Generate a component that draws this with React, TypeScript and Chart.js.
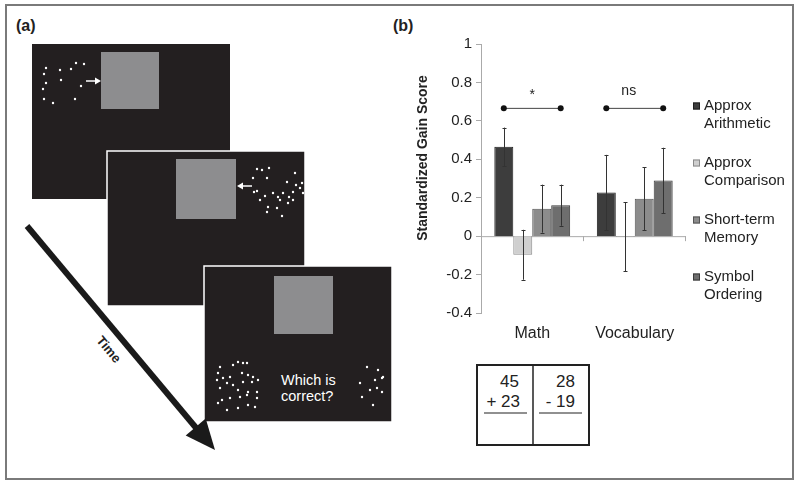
import React, { useEffect, useRef } from "react";
import { Chart, registerables } from "chart.js";
Chart.register(...registerables);

// ---------- data ----------
const categories = ["Math", "Vocabulary"];
const seriesNames = ["Approx Arithmetic", "Approx Comparison", "Short-term Memory", "Symbol Ordering"];
const approxArithmetic = [0.465, 0.227];
const approxComparison = [-0.097, -0.004];
const shortTermMemory = [0.143, 0.195];
const symbolOrdering = [0.161, 0.29];
const errApproxArithmetic = [0.1, 0.196];
const errApproxComparison = [0.13, 0.18];
const errShortTermMemory = [0.125, 0.163];
const errSymbolOrdering = [0.107, 0.17];
const sigLabels = ["*", "ns"];
const sigLevel = 0.665;
const sigLabelLevel = 0.757;
const yMin = -0.4;
const yMax = 1;
const yStep = 0.2;
const yTitle = "Standardized Gain Score";

const seriesValues = [approxArithmetic, approxComparison, shortTermMemory, symbolOrdering];
const seriesErrors = [errApproxArithmetic, errApproxComparison, errShortTermMemory, errSymbolOrdering];
const fills = ["#3d3d3d", "#cfcfcf", "#8c8c8c", "#6e6e6e"];
const borders = ["#1e1e1e", "#8a8a8a", "#555555", "#3a3a3a"];

// ---------- illustration (panel a) ----------
const dots1 = [[46,68],[44,74],[46,83],[43,89],[44,99],[53,103],[60,70],[61,80],[71,69],[76,63],[84,64],[81,86],[75,99]];
const dots2 = [[257,169],[262,170],[269,168],[295,173],[253,178],[267,178],[257,191],[254,192],[287,182],[296,185],[302,183],[300,188],[265,196],[273,193],[278,197],[283,193],[293,192],[289,197],[303,193],[260,200],[280,200],[288,203],[293,200],[268,207],[277,208],[267,212],[282,216]];
const dots3 = [[220,367],[233,365],[238,362],[243,363],[247,363],[218,373],[217,380],[223,378],[230,377],[242,373],[248,375],[253,377],[258,380],[227,383],[233,385],[243,382],[252,382],[220,388],[238,390],[248,392],[257,392],[222,400],[230,398],[240,397],[247,395],[257,398],[218,403],[227,410],[238,408],[248,405],[255,407],[367,367],[378,370],[382,378],[360,383],[375,380],[370,390],[377,388],[382,392],[362,397],[373,405],[383,377]];

const FONT = "'Liberation Sans', Arial, sans-serif";

const overlayPlugin = {
  id: "overlay",
  beforeDatasetsDraw(chart: any) {
    const { ctx, chartArea, scales } = chart;
    const y0 = scales.y.getPixelForValue(0);
    ctx.save();
    ctx.strokeStyle = "#aaaaaa";
    ctx.lineWidth = 1;
    ctx.beginPath();
    ctx.moveTo(chartArea.left, y0 + 0.5);
    ctx.lineTo(chartArea.right, y0 + 0.5);
    const n = categories.length;
    const w = (chartArea.right - chartArea.left) / n;
    for (let i = 1; i <= n; i++) {
      const x = Math.round(chartArea.left + i * w) - 0.5;
      ctx.moveTo(x, y0);
      ctx.lineTo(x, y0 + 5);
    }
    ctx.stroke();
    ctx.restore();
  },
  afterDatasetsDraw(chart: any) {
    const { ctx, scales } = chart;
    const ys = scales.y;
    ctx.save();
    // error bars
    ctx.strokeStyle = "#333333";
    ctx.lineWidth = 1;
    seriesErrors.forEach((errs, i) => {
      const meta = chart.getDatasetMeta(i);
      errs.forEach((e, j) => {
        const el = meta.data[j];
        const v = seriesValues[i][j];
        const x = Math.round(el.x) + 0.5;
        const yt = ys.getPixelForValue(v + e);
        const yb = ys.getPixelForValue(v - e);
        ctx.beginPath();
        ctx.moveTo(x, yt);
        ctx.lineTo(x, yb);
        ctx.moveTo(x - 2, Math.round(yt) + 0.5);
        ctx.lineTo(x + 2, Math.round(yt) + 0.5);
        ctx.moveTo(x - 2, Math.round(yb) + 0.5);
        ctx.lineTo(x + 2, Math.round(yb) + 0.5);
        ctx.stroke();
      });
    });
    // significance brackets
    const m0 = chart.getDatasetMeta(0);
    const m3 = chart.getDatasetMeta(seriesNames.length - 1);
    const ySig = ys.getPixelForValue(sigLevel);
    const yLab = ys.getPixelForValue(sigLabelLevel);
    categories.forEach((_, j) => {
      const x1 = m0.data[j].x;
      const x2 = m3.data[j].x;
      ctx.strokeStyle = "#444444";
      ctx.beginPath();
      ctx.moveTo(x1, ySig);
      ctx.lineTo(x2, ySig);
      ctx.stroke();
      ctx.fillStyle = "#111111";
      [x1, x2].forEach((x) => {
        ctx.beginPath();
        ctx.arc(x, ySig, 3, 0, Math.PI * 2);
        ctx.fill();
      });
      ctx.fillStyle = "#222222";
      ctx.font = `14px ${FONT}`;
      ctx.textAlign = "center";
      ctx.textBaseline = "middle";
      const lab = sigLabels[j];
      ctx.fillText(lab, (x1 + x2) / 2 - (j === 1 ? 6 : 0), lab === "*" ? yLab + 4 : yLab);
    });
    ctx.restore();
  },
  afterDraw(chart: any) {
    const { ctx, chartArea } = chart;
    ctx.save();
    // y-axis title
    ctx.translate(43, 158);
    ctx.rotate(-Math.PI / 2);
    ctx.font = `bold 14px ${FONT}`;
    ctx.fillStyle = "#222222";
    ctx.textAlign = "center";
    ctx.textBaseline = "middle";
    ctx.fillText(yTitle, 0, 0);
    ctx.restore();
    // legend
    ctx.save();
    const lx = chartArea.right + 7;
    seriesNames.forEach((name, i) => {
      const idx = name.indexOf(" ");
      const lines = [name.slice(0, idx), name.slice(idx + 1)];
      const y = 106 + i * 57;
      ctx.fillStyle = fills[i];
      ctx.strokeStyle = borders[i];
      ctx.lineWidth = 1;
      ctx.fillRect(lx, y - 3.5, 7, 7);
      ctx.strokeRect(lx + 0.5, y - 3.5 + 0.5, 6, 6);
      ctx.fillStyle = "#222222";
      ctx.font = `15px ${FONT}`;
      ctx.textAlign = "left";
      ctx.textBaseline = "middle";
      lines.forEach((t, k) => ctx.fillText(t, lx + 11, y + k * 18));
    });
    ctx.restore();
  },
};

function BarChart() {
  const ref = useRef<HTMLCanvasElement | null>(null);
  useEffect(() => {
    if (!ref.current) return;
    const chart = new Chart(ref.current, {
      type: "bar",
      data: {
        labels: categories,
        datasets: seriesNames.map((name, i) => ({
          label: name,
          data: seriesValues[i],
          backgroundColor: fills[i],
          borderColor: borders[i],
          borderWidth: 1,
          categoryPercentage: 0.74,
          barPercentage: 1.0,
        })),
      },
      options: {
        responsive: false,
        animation: false,
        layout: { padding: { left: 0, right: 114, top: 44, bottom: 0 } },
        plugins: { legend: { display: false }, tooltip: { enabled: false }, title: { display: false } },
        scales: {
          x: {
            grid: { display: false, drawTicks: false },
            border: { display: false },
            ticks: { font: { size: 16, family: FONT }, color: "#222222", padding: 11 },
            afterFit: (s: any) => { s.height = 47; },
          },
          y: {
            min: yMin,
            max: yMax,
            ticks: {
              stepSize: yStep,
              font: { size: 15, family: FONT },
              color: "#222222",
              padding: 4,
              callback: (v: any) => String(Number(Number(v).toFixed(1))),
            },
            grid: { display: true, drawOnChartArea: false, drawTicks: true, tickLength: 5, color: "#aaaaaa" },
            border: { display: true, color: "#aaaaaa" },
            afterFit: (s: any) => { s.width = 101; },
          },
        },
      },
      plugins: [overlayPlugin],
    } as any);
    return () => chart.destroy();
  }, []);
  return <canvas ref={ref} width={420} height={360} style={{ display: "block" }} />;
}

export default function App() {
  const dot = (p: number[], k: number) => <circle key={k} cx={p[0]} cy={p[1]} r={1.2} fill="#ffffff" />;
  return (
    <div style={{ position: "absolute", left: 0, top: 0, width: 800, height: 485, background: "#fff", fontFamily: FONT }}>
      <svg width={800} height={485} style={{ position: "absolute", left: 0, top: 0 }}>
        <rect x={6} y={5} width={787} height={474} fill="none" stroke="#7a7a7a" strokeWidth={2} />
        <text x={16} y={31} fontFamily={FONT} fontWeight="bold" fontSize={16} fill="#222">(a)</text>
        <text x={393} y={31} fontFamily={FONT} fontWeight="bold" fontSize={16} fill="#222">(b)</text>
        {/* screen 1 */}
        <rect x={32} y={44} width={198} height={155} fill="#231f20" />
        <rect x={101} y={52} width={58} height={57} fill="#8d8d8f" />
        {dots1.map(dot)}
        <line x1={86} y1={81} x2={96} y2={81} stroke="#fff" strokeWidth={1.5} />
        <polygon points="95,77.5 101,81 95,84.5" fill="#fff" />
        {/* screen 2 */}
        <rect x={107} y={151} width={198} height={155} fill="#231f20" stroke="#ffffff" strokeWidth={1.5} />
        <rect x={176} y={159} width={60} height={60} fill="#8d8d8f" />
        {dots2.map(dot)}
        <line x1={252} y1={186} x2={242} y2={186} stroke="#fff" strokeWidth={1.5} />
        <polygon points="243,182.5 237,186 243,189.5" fill="#fff" />
        {/* screen 3 */}
        <rect x={204} y={266} width={188} height={156} fill="#231f20" stroke="#ffffff" strokeWidth={1.5} />
        <rect x={274} y={276} width={59} height={58} fill="#8d8d8f" />
        {dots3.map(dot)}
        <text x={281} y={385} fontFamily={FONT} fontSize={14.5} fill="#fff">Which is</text>
        <text x={281} y={401} fontFamily={FONT} fontSize={14.5} fill="#fff">correct?</text>
        {/* time arrow */}
        <line x1={27} y1={226} x2={197} y2={429} stroke="#1a1a1a" strokeWidth={6} />
        <polygon points="215,450 185.7,435.4 205.7,418.6" fill="#1a1a1a" />
        <text x={108} y={350} fontFamily={FONT} fontWeight="bold" fontSize={13} fill="#222" textAnchor="middle" dominantBaseline="middle" transform="rotate(50 108 350)">Time</text>
        {/* table */}
        <rect x={477} y={365} width={112} height={80} fill="none" stroke="#222" strokeWidth={2} />
        <line x1={533} y1={365} x2={533} y2={445} stroke="#222" strokeWidth={1.5} />
        <text x={519} y={387} fontFamily={FONT} fontSize={17} fill="#222" textAnchor="end">45</text>
        <text x={520} y={407} fontFamily={FONT} fontSize={17} fill="#222" textAnchor="end">+ 23</text>
        <line x1={484} y1={413} x2={527} y2={413} stroke="#222" strokeWidth={1.2} />
        <text x={575} y={387} fontFamily={FONT} fontSize={17} fill="#222" textAnchor="end">28</text>
        <text x={575} y={407} fontFamily={FONT} fontSize={17} fill="#222" textAnchor="end">- 19</text>
        <line x1={539} y1={413} x2={582} y2={413} stroke="#222" strokeWidth={1.2} />
      </svg>
      <div style={{ position: "absolute", left: 380, top: 0, width: 420, height: 360 }}>
        <BarChart />
      </div>
    </div>
  );
}
